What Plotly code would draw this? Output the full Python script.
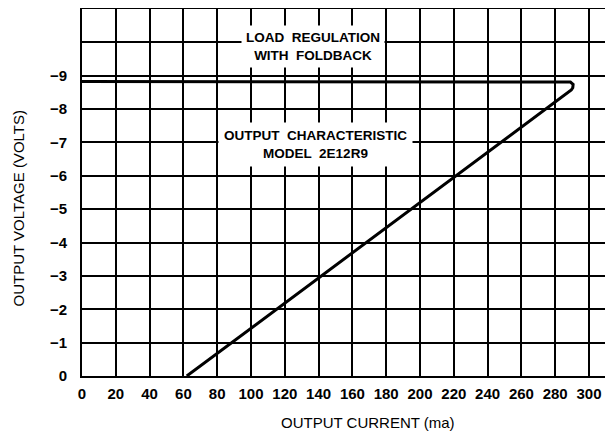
import plotly.graph_objects as go

# Data
current_ma = [0, 286, 289.0, 290.6, 290.4, 289.5, 62]
voltage_v = [-8.83, -8.83, -8.81, -8.74, -8.64, -8.57, 0]

x_ticks = list(range(0, 301, 20))
y_ticks = [0, -1, -2, -3, -4, -5, -6, -7, -8, -9, -10]
y_ticktext = ["0", "−1", "−2", "−3", "−4", "−5", "−6", "−7", "−8", "−9", ""]

label_load = "LOAD  REGULATION<br>WITH  FOLDBACK"
label_model = "OUTPUT  CHARACTERISTIC<br>MODEL  2E12R9"
x_title = "OUTPUT CURRENT (ma)"
y_title = "OUTPUT VOLTAGE (VOLTS)"

FONT = "Arial, Liberation Sans, sans-serif"

fig = go.Figure()
fig.add_trace(go.Scatter(
    x=current_ma, y=voltage_v, mode="lines",
    line=dict(color="black", width=3), showlegend=False, hoverinfo="skip",
))

# page body has an 8px margin, so the figure is sized to fit the 613x437 window
fig.update_layout(
    width=605, height=429,
    margin=dict(l=74, r=0, t=1, b=61),
    paper_bgcolor="white", plot_bgcolor="white",
    font=dict(family=FONT, color="black"),
    xaxis=dict(
        range=[0, 314.2], tickvals=x_ticks, showgrid=True, gridcolor="black",
        gridwidth=2, showline=True, linecolor="black", linewidth=2, mirror=True,
        zeroline=False, ticks="", ticklabelstandoff=3, automargin=False,
        tickfont=dict(family=FONT, size=15, weight="bold"),
    ),
    yaxis=dict(
        range=[0, -11], tickvals=y_ticks, ticktext=y_ticktext, showgrid=True,
        gridcolor="black", gridwidth=1.6, showline=True, linecolor="black",
        linewidth=2, mirror=False, zeroline=False, ticks="", ticklabelstandoff=10,
        automargin=False,
        tickfont=dict(family=FONT, size=15, weight="bold"),
    ),
    annotations=[
        dict(x=136.7, y=-9.87, xref="x", yref="y", text=label_load, showarrow=False,
             font=dict(family=FONT, size=13.5, weight="bold"), bgcolor="white",
             borderpad=4, align="center"),
        dict(x=137.9, y=-6.93, xref="x", yref="y", text=label_model, showarrow=False,
             font=dict(family=FONT, size=13.5, weight="bold"), bgcolor="white",
             borderpad=5, align="center"),
        dict(x=-0.1205, y=0.4565, xref="paper", yref="paper", text=y_title,
             showarrow=False, textangle=-90, font=dict(family=FONT, size=15),
             xanchor="center", yanchor="middle"),
        dict(x=0.5386, y=-0.1277, xref="paper", yref="paper", text=x_title,
             showarrow=False, font=dict(family=FONT, size=15),
             xanchor="center", yanchor="middle"),
    ],
)

fig.write_html("out.html")
